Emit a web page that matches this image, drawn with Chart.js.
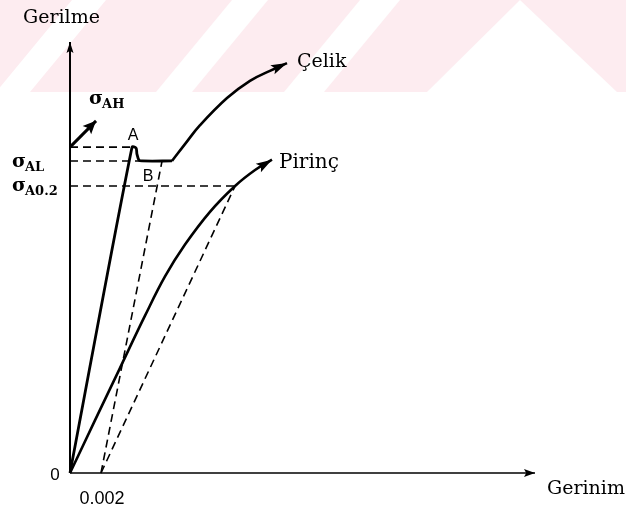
<!DOCTYPE html>
<html><head><meta charset="utf-8">
<script src="https://cdn.jsdelivr.net/npm/chart.js@4.4.1/dist/chart.umd.min.js"></script>
<style>html,body{margin:0;padding:0;background:#fff}#wrap{width:626px;height:511px;position:relative}</style>
</head><body><div id="wrap"><canvas id="c" width="626" height="511"></canvas></div>
<script>
// Strain (x) and stress (y, arbitrary units along the axis 0..100)
const axisXMax = 0.03;
const axisYMax = 100;
const offsetStrain = 0.002;

// Çelik (steel): elastic line, upper yield point A, drop to lower yield plateau B
const steelYieldX = [0, 0.0040, 0.00426, 0.00432, 0.00445, 0.00465, 0.00658];
const steelYieldY = [0, 75.6, 75.4, 74.0, 72.6, 72.4, 72.4];
// Çelik: strain hardening part
const steelHardX = [0.00658, 0.00748, 0.00839, 0.01013, 0.01161, 0.0129, 0.0140];
const steelHardY = [72.4, 76.6, 80.7, 87.0, 91.0, 93.3, 95.1];
// Pirinç (brass)
const brassX = [0, 0.00161, 0.00323, 0.00484, 0.00613, 0.00742, 0.00903, 0.01065, 0.01194, 0.01303];
const brassY = [0, 12.2, 24.4, 36.5, 45.6, 53.0, 60.6, 66.6, 70.3, 72.7];

// Stress levels
const sigmaAH = 75.6, sigmaAL = 72.4, sigmaA02 = 66.6;
const levelX = { AH: 0.0040, AL: 0.00452, A02: 0.01065 };
// 0.2% offset lines
const steelOffsetX = [0.002, 0.00594];
const steelOffsetY = [0, 72.4];
const brassOffsetX = [0.002, 0.01065];
const brassOffsetY = [0, 66.6];
// σAH pointer arrow
const ahArrowX = [0, 0.00168];
const ahArrowY = [75.6, 81.7];

const tickLabels = ['0', '0.002'];

function pts(xs, ys){ return xs.map((x,i)=>({x:x, y:ys[i]})); }

const dash = [8,5];
const base = {showLine:true, pointRadius:0, borderColor:'#000', fill:false, clip:false, tension:0};
function solid(data, w, extra){ return Object.assign({}, base, {data:data, borderWidth:w}, extra||{}); }
function dashed(data){ return Object.assign({}, base, {data:data, borderWidth:1.6, borderDash:dash}); }

const datasets = [
  solid(pts([0,0],[0,axisYMax]), 2, {arrow:{len:11,w:3.5}}),
  solid(pts([0,axisXMax],[0,0]), 1.5, {arrow:{len:11,w:4}}),
  dashed(pts([0,levelX.AH],[sigmaAH,sigmaAH])),
  dashed(pts([0,levelX.AL],[sigmaAL,sigmaAL])),
  dashed(pts([0,levelX.A02],[sigmaA02,sigmaA02])),
  dashed(pts(steelOffsetX, steelOffsetY)),
  dashed(pts(brassOffsetX, brassOffsetY)),
  solid(pts(steelYieldX, steelYieldY), 2.8, {borderJoinStyle:'round', tension:0.3}),
  solid(pts(steelHardX, steelHardY), 2.6, {tension:0.4, arrow:{len:16,w:5}}),
  solid(pts(brassX, brassY), 2.6, {tension:0.4, arrow:{len:16,w:5}}),
  solid(pts(ahArrowX, ahArrowY), 3, {arrow:{len:13,w:6}})
];

const watermark = {
  id:'watermark',
  beforeDraw(chart){
    const c = chart.ctx;
    c.save();
    c.fillStyle = '#fdecf0';
    c.fillRect(0,0,626,92);
    c.fillStyle = '#ffffff';
    const stripes = [[72,106],[232,268],[360,400]];
    const sh = 76;
    stripes.forEach(s=>{
      c.beginPath();
      c.moveTo(s[0],0); c.lineTo(s[1],0); c.lineTo(s[1]-sh,92); c.lineTo(s[0]-sh,92); c.closePath(); c.fill();
    });
    c.beginPath();
    c.moveTo(520,0); c.lineTo(617,92); c.lineTo(427,92); c.closePath(); c.fill();
    c.restore();
  }
};

const arrows = {
  id:'arrows',
  afterDatasetsDraw(chart){
    const c = chart.ctx;
    chart.data.datasets.forEach((ds,i)=>{
      if(!ds.arrow) return;
      const m = chart.getDatasetMeta(i).data;
      const p1 = m[m.length-2], p2 = m[m.length-1];
      const a = Math.atan2(p2.y-p1.y, p2.x-p1.x);
      const L = ds.arrow.len, W = ds.arrow.w;
      c.save();
      c.fillStyle = '#000';
      c.translate(p2.x,p2.y); c.rotate(a);
      c.beginPath(); c.moveTo(0,0); c.lineTo(-L,-W); c.lineTo(-L*0.8,0); c.lineTo(-L,W); c.closePath(); c.fill();
      c.restore();
    });
  }
};

function sigma(c, x, baseY, sub){
  c.textAlign='left'; c.textBaseline='alphabetic';
  c.font = 'bold 19px "DejaVu Serif"';
  c.fillText('σ', x, baseY);
  const w = c.measureText('σ').width;
  c.font = 'bold 13px "DejaVu Serif"';
  c.fillText(sub, x+w-1, baseY+4);
}

const labels = {
  id:'labels',
  afterDraw(chart){
    const c = chart.ctx, xs = chart.scales.x, ys = chart.scales.y;
    const X = v=>xs.getPixelForValue(v), Y = v=>ys.getPixelForValue(v);
    c.save();
    c.fillStyle = '#000';
    c.textBaseline = 'middle';
    c.font = '19px "DejaVu Serif"';
    c.textAlign = 'left';
    c.fillText('Gerilme', X(0)-47, Y(axisYMax)-24);
    c.fillText('Gerinim', X(axisXMax)+12, Y(0)+16);
    const sL = steelHardX.length-1, bL = brassX.length-1;
    c.fillText('Çelik', X(steelHardX[sL])+10, Y(steelHardY[sL])-1);
    c.font = '20px "DejaVu Serif"';
    c.fillText('Pirinç', X(brassX[bL])+7, Y(brassY[bL])+3);
    // sigma labels
    sigma(c, X(ahArrowX[1])-7, Y(ahArrowY[1])-17, 'AH');
    sigma(c, 12, Y(sigmaAL)+6, 'AL');
    sigma(c, 12, Y(sigmaA02)+5, 'A0.2');
    // points A and B
    c.textAlign='center'; c.textBaseline='middle';
    c.font = '16px "Liberation Sans"';
    c.fillText('A', X(steelYieldX[1])+1, Y(steelYieldY[1])-12);
    c.fillText('B', X(steelYieldX[5])+6, Y(steelYieldY[5])+16);
    c.font = '17px "Liberation Sans"';
    c.fillText(tickLabels[0], X(0)-15, Y(0)+2);
    c.font = '18px "Liberation Sans"';
    c.fillText(tickLabels[1], X(offsetStrain)+1, Y(0)+26);
    c.restore();
  }
};

new Chart(document.getElementById('c'), {
  type:'scatter',
  data:{datasets:datasets},
  options:{
    responsive:false, animation:false,
    layout:{padding:{left:70, right:91, top:42, bottom:38}},
    plugins:{legend:{display:false}, tooltip:{enabled:false}},
    scales:{
      x:{type:'linear', display:false, min:0, max:axisXMax},
      y:{type:'linear', display:false, min:0, max:axisYMax}
    }
  },
  plugins:[watermark, arrows, labels]
});
</script></body></html>
